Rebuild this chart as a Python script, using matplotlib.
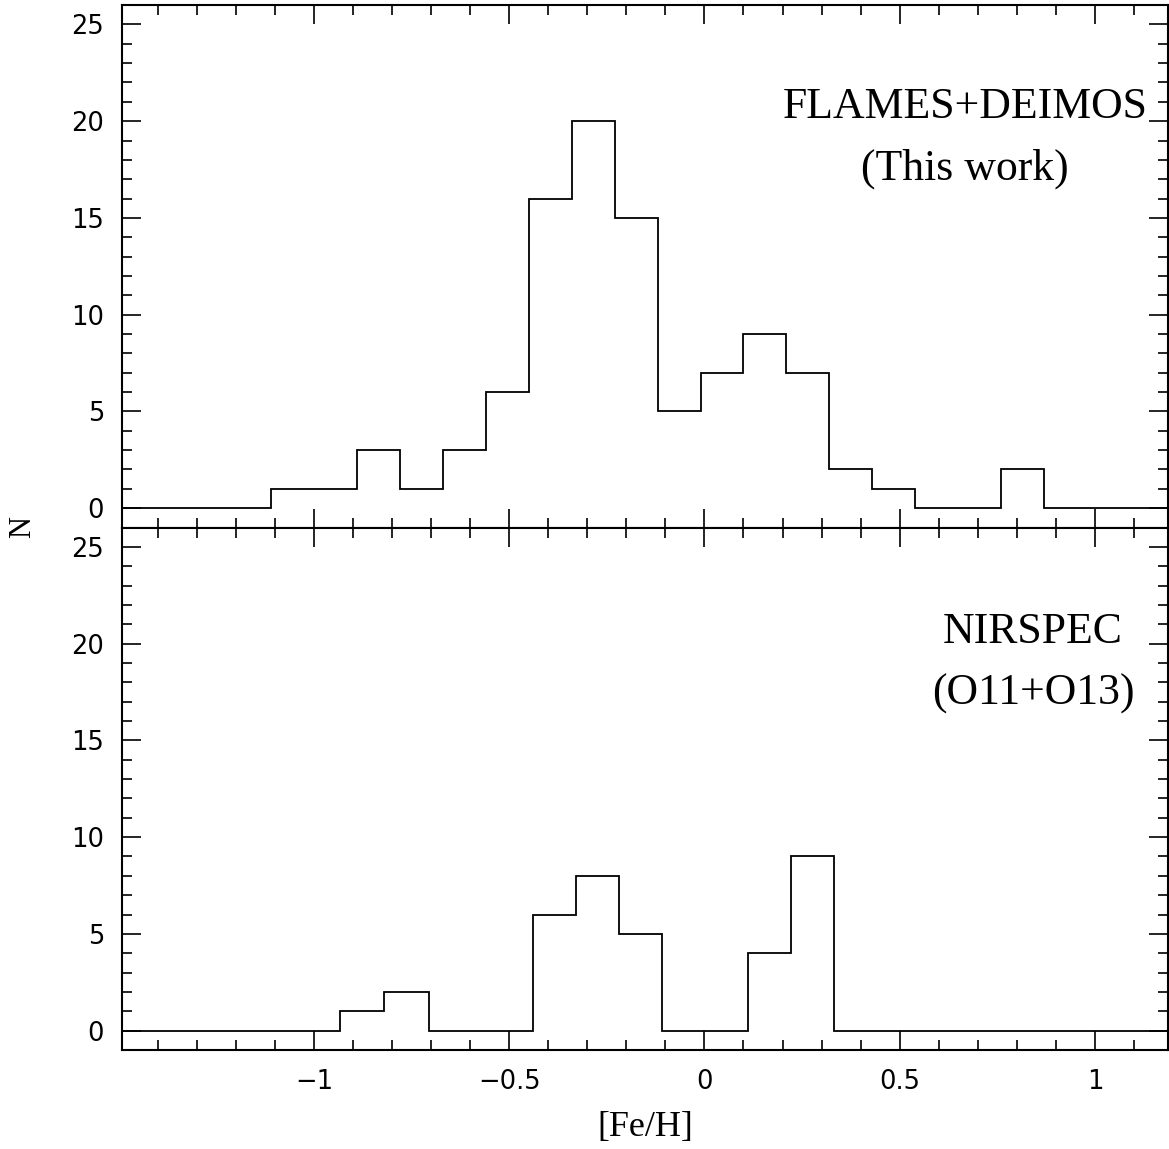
import matplotlib
matplotlib.use('Agg')
import matplotlib.pyplot as plt
from matplotlib.ticker import MultipleLocator, FuncFormatter

# Histogram data: bin edges in [Fe/H] and star counts
flames_edges = [-1.11, -1.00, -0.89, -0.78, -0.67, -0.56, -0.45, -0.34, -0.23, -0.12,
                -0.01, 0.10, 0.21, 0.32, 0.43, 0.54, 0.65, 0.76, 0.87]
flames_counts = [1, 1, 3, 1, 3, 6, 16, 20, 15, 5, 7, 9, 7, 2, 1, 0, 0, 2]

nirspec_edges = [-0.934, -0.820, -0.706, -0.440, -0.329, -0.218, -0.109, 0.112, 0.222, 0.331]
nirspec_counts = [1, 2, 0, 6, 8, 5, 0, 4, 9]

panel_labels = [('FLAMES+DEIMOS', '(This work)'), ('NIRSPEC', '(O11+O13)')]

XLIM = (-1.491, 1.187)
YLIM = (-1, 26)

fig = plt.figure(figsize=(11.69, 11.49), dpi=100)
fig.patch.set_facecolor('white')

ax_top = fig.add_axes([0.1044, 0.5409, 0.8948, 0.4547])
ax_bot = fig.add_axes([0.1044, 0.0862, 0.8948, 0.4547])

serif = 'Liberation Serif'


def fmt_x(v, pos):
    s = '%g' % round(v, 3)
    if s == '-0':
        s = '0'
    return s.replace('-', '\u2212')


for ax, edges, counts, (l1, l2), (tx, ty) in [
        (ax_top, flames_edges, flames_counts, panel_labels[0], (0.806, 0.805)),
        (ax_bot, nirspec_edges, nirspec_counts, panel_labels[1], (0.871, 0.800))]:
    # extend the histogram with empty bins out to the frame edges
    full_edges = [XLIM[0]] + list(edges) + [XLIM[1]]
    full_counts = [0] + list(counts) + [0]
    ax.stairs(full_counts, full_edges, baseline=None, color='black', linewidth=1.3)

    ax.set_xlim(*XLIM)
    ax.set_ylim(*YLIM)

    ax.xaxis.set_major_locator(MultipleLocator(0.5))
    ax.xaxis.set_minor_locator(MultipleLocator(0.1))
    ax.yaxis.set_major_locator(MultipleLocator(5))
    ax.yaxis.set_minor_locator(MultipleLocator(1))
    ax.xaxis.set_major_formatter(FuncFormatter(fmt_x))

    ax.tick_params(which='both', direction='in', top=True, right=True,
                   width=1.2, color='black')
    ax.tick_params(which='major', length=13.5)
    ax.tick_params(which='minor', length=7)
    ax.tick_params(axis='x', which='major', pad=14, labelsize=18.5)
    ax.tick_params(axis='y', which='major', pad=13, labelsize=18.5)

    for sp in ax.spines.values():
        sp.set_linewidth(1.5)

    ax.text(tx, ty, l1, transform=ax.transAxes, ha='center', va='center',
            fontsize=31.5, family=serif)
    ax.text(tx, ty - 0.118, l2, transform=ax.transAxes, ha='center', va='center',
            fontsize=31.5, family=serif)

ax_top.tick_params(axis='x', labelbottom=False)

fig.text(0.5518, 0.019, '[Fe/H]', ha='center', va='center', fontsize=26, family=serif)
fig.text(0.019, 0.5413, 'N', ha='center', va='center', rotation=90, fontsize=22, family=serif)

fig.savefig('out.png', dpi=100, facecolor='white')
